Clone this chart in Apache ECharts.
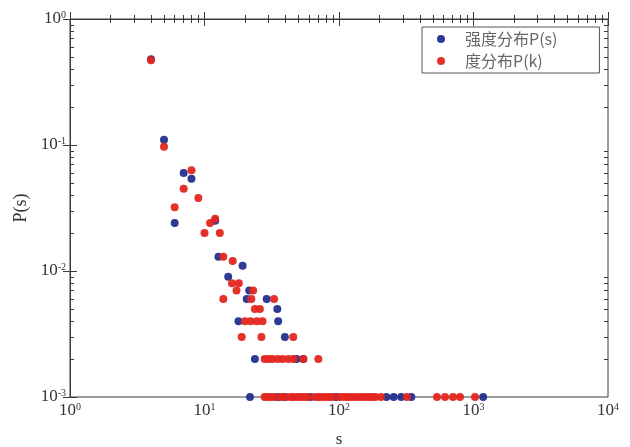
<!DOCTYPE html>
<html>
<head>
<meta charset="utf-8">
<script src="https://cdn.jsdelivr.net/npm/echarts@6/dist/echarts.min.js"></script>
<style>
  html, body { margin: 0; padding: 0; background: #fff; }
  #main { width: 630px; height: 447px; }
</style>
</head>
<body>
<div id="main"></div>
<script>
// 强度分布 P(s)，[s, P]
const strengthPoints = [
  [4, 0.48], [5, 0.11], [6, 0.024], [7, 0.060], [8, 0.054], [12, 0.025],
  [12.7, 0.013], [19.2, 0.011], [15, 0.009], [21.5, 0.007],
  [20.6, 0.006], [29, 0.006], [34.8, 0.005], [17.9, 0.004], [35.3, 0.004],
  [39.6, 0.003], [23.7, 0.002], [48.3, 0.002], [54.3, 0.002],
  [21.8, 0.001], [35, 0.001], [40, 0.001], [61, 0.001], [95, 0.001],
  [225, 0.001], [255, 0.001], [290, 0.001], [345, 0.001], [1180, 0.001]
];

// 度分布 P(k)，[k, P]
const degreePoints = [
  [4, 0.47], [5, 0.097], [6, 0.032], [7, 0.045], [8, 0.063], [9, 0.038],
  [10, 0.020], [11, 0.024], [12, 0.026], [13, 0.020],
  [13.8, 0.013], [16.2, 0.012], [16, 0.008], [18, 0.008], [17.3, 0.007], [23, 0.007],
  [13.8, 0.006], [22.3, 0.006], [32.9, 0.006],
  [23.7, 0.005], [25.8, 0.005],
  [20, 0.004], [22, 0.004], [24.5, 0.004], [27, 0.004],
  [18.9, 0.003], [26.5, 0.003], [45.7, 0.003],
  [28, 0.002], [30, 0.002], [32, 0.002], [35, 0.002], [38, 0.002], [42, 0.002],
  [46, 0.002], [54.3, 0.002], [70.2, 0.002],
  [28, 0.001], [29.5, 0.001], [31, 0.001], [33, 0.001], [37, 0.001], [39, 0.001],
  [43.5, 0.001], [46, 0.001], [49, 0.001], [52, 0.001], [55, 0.001], [58, 0.001],
  [66, 0.001], [70, 0.001], [74, 0.001], [79, 0.001], [84, 0.001], [89, 0.001],
  [101, 0.001], [108, 0.001], [115, 0.001], [122, 0.001], [130, 0.001], [139, 0.001],
  [148, 0.001], [158, 0.001], [168, 0.001], [178, 0.001], [186, 0.001], [205, 0.001],
  [320, 0.001], [535, 0.001], [614, 0.001], [704, 0.001], [794, 0.001], [1026, 0.001]
];

const legendNames = ['强度分布P(s)', '度分布P(k)'];

const SERIF = '"Liberation Serif", "DejaVu Serif", serif';
const lineColor = '#3a3a3a';

function powLabel(v) {
  const e = Math.round(Math.log10(v));
  return '{b|10}{s|' + e + '}';
}
const powRich = {
  b: { fontFamily: SERIF, fontSize: 17, color: '#333', verticalAlign: 'bottom' },
  s: { fontFamily: SERIF, fontSize: 10, color: '#333', verticalAlign: 'top' }
};

// 次刻度（对数空间里的 2..9）
function minorTicks(lo, hi) {
  const out = [];
  for (let d = lo; d < hi; d++) {
    for (let m = 2; m <= 9; m++) out.push(d + Math.log10(m));
  }
  return out;
}
function majorTicks(lo, hi) {
  const out = [];
  for (let d = lo; d <= hi; d++) out.push(d);
  return out;
}

function tickAxis(pos, lo, hi, values, len) {
  return {
    type: 'value', position: pos, min: lo, max: hi,
    axisLine: { show: false },
    axisLabel: { show: false },
    splitLine: { show: false },
    axisTick: { show: true, inside: true, length: len, customValues: values,
      lineStyle: { color: lineColor, width: 1 } }
  };
}

const myChart = echarts.init(document.getElementById('main'));

const option = {
  backgroundColor: '#fff',
  animation: false,
  grid: {
    left: 70, right: 22, top: 19, bottom: 50,
    outerBoundsMode: 'none',
    containLabel: false,
    show: true, borderColor: lineColor, borderWidth: 1
  },
  legend: {
    data: legendNames,
    orient: 'vertical',
    left: 422, top: 27,
    padding: [4, 42, 4, 15],
    itemGap: 6,
    itemWidth: 38, itemHeight: 8,
    icon: 'circle',
    borderColor: '#555', borderWidth: 1,
    backgroundColor: '#fff',
    textStyle: { fontFamily: '"Noto Sans CJK SC", ' + SERIF, fontSize: 16, color: '#666' }
  },
  xAxis: [
    {
      type: 'log', logBase: 10, min: 1, max: 10000, position: 'bottom',
      name: 's', nameLocation: 'middle', nameGap: 34,
      nameTextStyle: { fontFamily: SERIF, fontSize: 17, color: '#333' },
      axisLine: { show: true, lineStyle: { color: lineColor } },
      axisTick: { show: true, inside: true, length: 7, lineStyle: { color: lineColor } },
      axisLabel: { formatter: powLabel, rich: powRich, margin: 5 },
      splitLine: { show: false },
      minorTick: { show: false }
    },
    tickAxis('bottom', 0, 4, minorTicks(0, 4), 4),
    tickAxis('top', 0, 4, majorTicks(0, 4), 7),
    tickAxis('top', 0, 4, minorTicks(0, 4), 4)
  ],
  yAxis: [
    {
      type: 'log', logBase: 10, min: 0.001, max: 1, position: 'left',
      name: 'P(s)', nameLocation: 'middle', nameGap: 33, nameRotate: 90,
      nameTextStyle: { fontFamily: SERIF, fontSize: 18, color: '#333' },
      axisLine: { show: true, lineStyle: { color: lineColor } },
      axisTick: { show: true, inside: true, length: 7, lineStyle: { color: lineColor } },
      axisLabel: { formatter: powLabel, rich: powRich, margin: 4 },
      splitLine: { show: false },
      minorTick: { show: false }
    },
    tickAxis('left', -3, 0, minorTicks(-3, 0), 4),
    tickAxis('right', -3, 0, majorTicks(-3, 0), 7),
    tickAxis('right', -3, 0, minorTicks(-3, 0), 4)
  ],
  series: [
    {
      name: legendNames[0], type: 'scatter', xAxisIndex: 0, yAxisIndex: 0,
      symbolSize: 8, data: strengthPoints,
      itemStyle: { color: '#23308f', opacity: 0.95 }
    },
    {
      name: legendNames[1], type: 'scatter', xAxisIndex: 0, yAxisIndex: 0,
      symbolSize: 8, data: degreePoints,
      itemStyle: { color: '#e3261f', opacity: 0.95 }
    }
  ]
};

myChart.setOption(option);
</script>
</body>
</html>
